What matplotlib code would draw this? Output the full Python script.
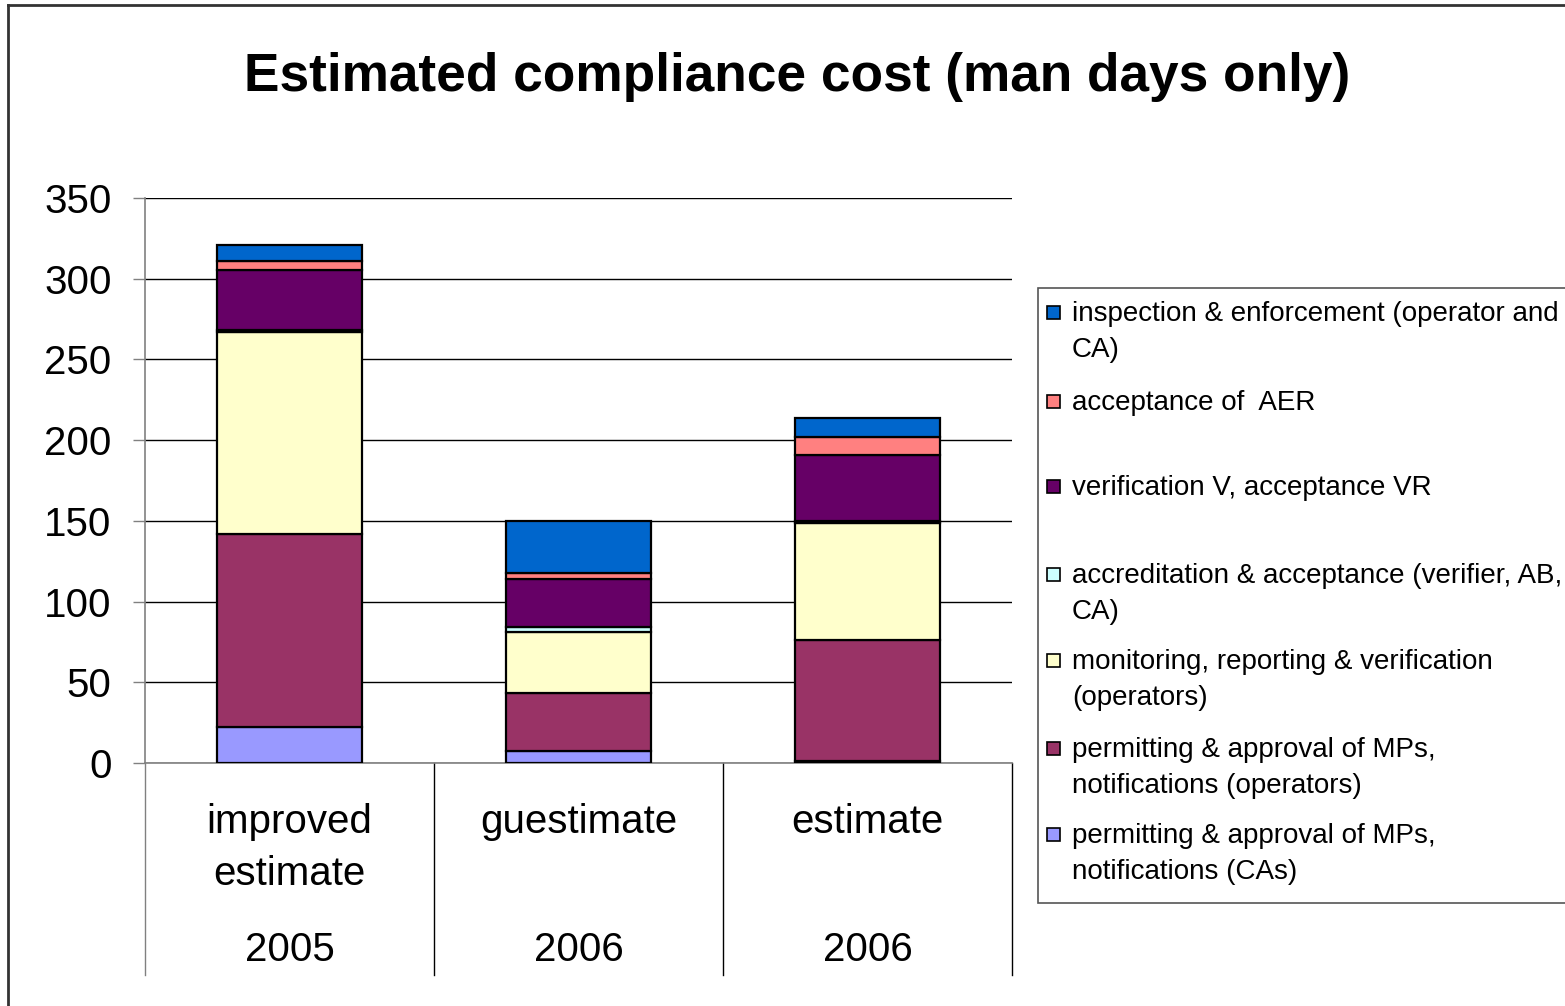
import matplotlib
matplotlib.use("Agg")
import matplotlib.pyplot as plt
from matplotlib.patches import Rectangle
from matplotlib.lines import Line2D

plt.rcParams['font.family'] = ['Liberation Sans', 'DejaVu Sans']

# ---- data ----
categories = ["improved\nestimate", "guestimate", "estimate"]
years = ["2005", "2006", "2006"]

series_names = [
    "permitting & approval of MPs,\nnotifications (CAs)",
    "permitting & approval of MPs,\nnotifications (operators)",
    "monitoring, reporting & verification\n(operators)",
    "accreditation & acceptance (verifier, AB,\nCA)",
    "verification V, acceptance VR",
    "acceptance of  AER",
    "inspection & enforcement (operator and\nCA)",
]
permit_cas = [22, 7.5, 1.5]
permit_ops = [120, 36, 75]
mrv_ops = [125, 37.5, 72]
accreditation = [1.5, 3, 1.5]
verification = [37, 30, 41]
acceptance_aer = [5.5, 4, 11]
inspection = [10, 32, 12]
series_values = [permit_cas, permit_ops, mrv_ops, accreditation,
                 verification, acceptance_aer, inspection]
colors = ["#9999FF", "#993366", "#FFFFCC", "#CCFFFF", "#660066", "#FF8080", "#0066CC"]

yticks = [0, 50, 100, 150, 200, 250, 300, 350]

# ---- figure ----
W, H = 1565, 1006
fig = plt.figure(figsize=(W / 100, H / 100), dpi=100)

def fx(px):
    return px / W

def fy(py):
    return 1 - py / H

ax_left, ax_right, ax_top, ax_bottom = 145, 1012, 198, 763
ax = fig.add_axes([fx(ax_left), fy(ax_bottom), fx(ax_right - ax_left), (ax_bottom - ax_top) / H])

x = list(range(len(categories)))
bottom = [0.0] * len(categories)
for vals, col in zip(series_values, colors):
    ax.bar(x, vals, width=0.5, bottom=bottom, color=col, edgecolor="black",
           linewidth=1.6, zorder=3)
    bottom = [b + v for b, v in zip(bottom, vals)]

ax.set_xlim(-0.5, len(categories) - 0.5)
ax.set_ylim(0, 350)
ax.set_yticks(yticks)
ax.set_yticklabels([str(t) for t in yticks], fontsize=29)
ax.tick_params(axis="y", direction="out", length=9, width=1, color="#808080", pad=15)
ax.tick_params(axis="x", length=0, labelbottom=False)
ax.yaxis.grid(True, color="black", linewidth=1)
ax.set_axisbelow(True)
for s in ["top", "right"]:
    ax.spines[s].set_visible(False)
ax.spines["left"].set_color("#808080")
ax.spines["left"].set_linewidth(1.2)
ax.spines["bottom"].set_color("#808080")
ax.spines["bottom"].set_linewidth(1.2)

# two-level category axis
trans = ax.get_xaxis_transform()
ax_h = ax_bottom - ax_top
def ay(py):
    return (ax_bottom - py) / ax_h

for i, (c, yr) in enumerate(zip(categories, years)):
    ax.text(i, ay(803), c, transform=trans, ha="center", va="top", fontsize=29,
            linespacing=1.47, clip_on=False)
    ax.text(i, ay(950), yr, transform=trans, ha="center", va="center", fontsize=29,
            clip_on=False)
for k in range(len(categories) + 1):
    xb = k - 0.5
    ax.add_line(Line2D([xb, xb], [0, ay(975)], transform=trans, color="black" if k else "#808080",
                       linewidth=1, clip_on=False))

# title
fig.text(fx(797), fy(77), "Estimated compliance cost (man days only)", ha="center", va="center",
         fontsize=38.3, fontweight="bold")

# outer border
fig.add_artist(Line2D([fx(8), fx(8)], [fy(5), fy(1010)], color="#333333", linewidth=2, transform=fig.transFigure))
fig.add_artist(Line2D([fx(8), fx(1570)], [fy(5), fy(5)], color="#333333", linewidth=2, transform=fig.transFigure))

# legend (Excel style, top entry = last series)
leg_left, leg_top, leg_bottom = 1038, 288, 903
fig.add_artist(Rectangle((fx(leg_left), fy(leg_bottom)), fx(1600 - leg_left), (leg_bottom - leg_top) / H,
                         transform=fig.transFigure, facecolor="white", edgecolor="#555555", linewidth=1.2))
first_lines = [312, 401, 486, 574, 660, 748, 834]
for j, idx in enumerate(reversed(range(len(series_names)))):
    yc = first_lines[j]
    fig.add_artist(Rectangle((fx(1047), fy(yc + 7)), fx(13), 13 / H, transform=fig.transFigure,
                             facecolor=colors[idx], edgecolor="black", linewidth=1.2))
    fig.text(fx(1072), fy(yc - 11), series_names[idx], ha="left", va="top", fontsize=20,
             linespacing=1.49)

fig.savefig("out.png", dpi=100)
